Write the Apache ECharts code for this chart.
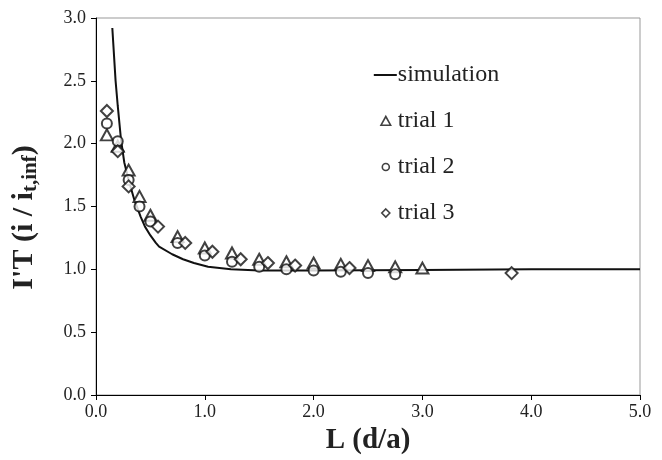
<!DOCTYPE html>
<html><head><meta charset="utf-8">
<script src="https://cdn.jsdelivr.net/npm/echarts@6/dist/echarts.min.js"></script>
<style>html,body{margin:0;padding:0;background:#fff}#c{width:662px;height:460px}</style>
</head><body><div id="c"></div>
<script>
// Simulation curve (x = L (d/a), y = I'T)
const simX = [0.15, 0.18, 0.2, 0.23, 0.26, 0.3, 0.35, 0.41, 0.45, 0.5, 0.55, 0.58, 0.7, 0.8, 0.9, 1.03, 1.24, 1.5, 2.0, 3.0, 4.0, 5.0];
const simY = [2.92, 2.5, 2.3, 2.03, 1.85, 1.71, 1.56, 1.42, 1.34, 1.27, 1.21, 1.18, 1.12, 1.08, 1.05, 1.02, 1.0, 0.99, 0.99, 0.995, 1.0, 1.0];
// Trial 1 (triangles)
const t1X = [0.1, 0.2, 0.3, 0.4, 0.5, 0.75, 1.0, 1.25, 1.5, 1.75, 2.0, 2.25, 2.5, 2.75, 3.0];
const t1Y = [2.07, 1.98, 1.79, 1.58, 1.43, 1.26, 1.17, 1.13, 1.08, 1.06, 1.05, 1.04, 1.03, 1.02, 1.01];
// Trial 2 (circles)
const t2X = [0.1, 0.2, 0.3, 0.4, 0.5, 0.75, 1.0, 1.25, 1.5, 1.75, 2.0, 2.25, 2.5, 2.75];
const t2Y = [2.16, 2.02, 1.71, 1.50, 1.38, 1.21, 1.11, 1.06, 1.02, 1.0, 0.99, 0.98, 0.97, 0.96];
// Trial 3 (diamonds)
const t3X = [0.1, 0.2, 0.3, 0.57, 0.82, 1.07, 1.33, 1.58, 1.83, 2.33, 3.82];
const t3Y = [2.26, 1.94, 1.66, 1.34, 1.21, 1.14, 1.08, 1.05, 1.03, 1.01, 0.97];
const xTicks = [0, 5, 1];
const yTicks = [0, 3, 0.5];

const zip = (xs, ys) => xs.map((x, i) => [x, ys[i]]);
const serif = '"Liberation Serif", "Times New Roman", serif';
const ink = '#111';
const hollow = { color: '#fff', borderColor: ink, borderWidth: 1.6 };
const chart = echarts.init(document.getElementById('c'));
chart.setOption({
  animation: false,
  backgroundColor: '#fff',
  grid: { left: 95, right: 22, top: 18, bottom: 65, show: true, borderColor: '#999', borderWidth: 1 },
  legend: {
    orient: 'vertical', left: 368, top: 58, itemGap: 22, itemWidth: 23, itemHeight: 10,
    textStyle: { fontFamily: serif, fontSize: 24, color: '#222', lineHeight: 24, padding: [0, 0, 0, -4] },
    data: [
      { name: 'simulation', icon: 'path://M0,0 M0,4 L23,4 L23,6 L0,6 Z M23,10', itemStyle: { color: ink, borderWidth: 0 } },
      { name: 'trial 1', icon: 'path://M0,0 M23,10 M12,0.5 L16.8,9.2 L7.2,9.2 Z', itemStyle: hollow },
      { name: 'trial 2', icon: 'path://M0,0 M23,10 M15.5,5 A3.5,3.5 0 1 1 8.5,5 A3.5,3.5 0 1 1 15.5,5 Z', itemStyle: hollow },
      { name: 'trial 3', icon: 'path://M0,0 M23,10 M12,1 L16,5 L12,9 L8,5 Z', itemStyle: hollow }
    ]
  },
  xAxis: {
    type: 'value', min: xTicks[0], max: xTicks[1], interval: xTicks[2],
    name: 'L (d/a)', nameLocation: 'middle', nameGap: 31,
    nameTextStyle: { fontFamily: serif, fontSize: 29, fontWeight: 'bold', color: '#222' },
    axisLine: { show: true, onZero: false, lineStyle: { color: '#000', width: 1 } },
    axisTick: { show: true, inside: false, length: 5, lineStyle: { color: '#000' } },
    axisLabel: { fontFamily: serif, fontSize: 18, color: '#222', margin: 8, formatter: v => v.toFixed(1) },
    splitLine: { show: false }
  },
  yAxis: {
    type: 'value', min: yTicks[0], max: yTicks[1], interval: yTicks[2],
    name: "{a|I'T (i / i}{b|t,inf}{a|)}", nameLocation: 'middle', nameGap: 55,
    nameTextStyle: {
      padding: [0, 22, 0, 0],
      rich: {
        a: { fontFamily: serif, fontSize: 30, fontWeight: 'bold', color: '#222', lineHeight: 34 },
        b: { fontFamily: serif, fontSize: 21, fontWeight: 'bold', color: '#222', lineHeight: 34, verticalAlign: 'bottom', padding: [12, 0, 0, 0] }
      }
    },
    axisLine: { show: true, onZero: false, lineStyle: { color: '#000', width: 1 } },
    axisTick: { show: true, inside: false, length: 5, lineStyle: { color: '#000' } },
    axisLabel: { fontFamily: serif, fontSize: 18, color: '#222', margin: 10, formatter: v => v.toFixed(1) },
    splitLine: { show: false }
  },
  series: [
    { name: 'simulation', type: 'line', data: zip(simX, simY), symbol: 'none', smooth: false,
      lineStyle: { color: ink, width: 2 }, itemStyle: { color: ink }, z: 2 },
    { name: 'trial 1', type: 'scatter', data: zip(t1X, t1Y), symbol: 'emptyTriangle', symbolSize: [12, 11],
      itemStyle: { color: ink, borderColor: ink, borderWidth: 1.8 }, z: 3 },
    { name: 'trial 2', type: 'scatter', data: zip(t2X, t2Y), symbol: 'emptyCircle', symbolSize: 10,
      itemStyle: { color: ink, borderColor: ink, borderWidth: 1.8 }, z: 3 },
    { name: 'trial 3', type: 'scatter', data: zip(t3X, t3Y), symbol: 'emptyDiamond', symbolSize: [12, 12],
      itemStyle: { color: ink, borderColor: ink, borderWidth: 1.8 }, z: 3 }
  ]
});
</script></body></html>
